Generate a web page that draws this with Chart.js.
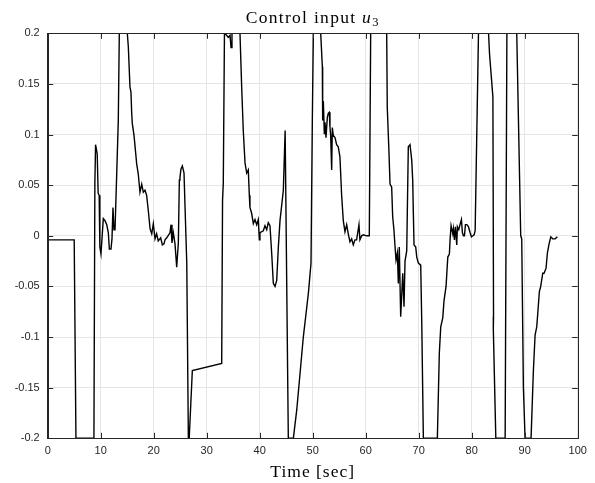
<!DOCTYPE html>
<html lang="en">
<head>
  <meta charset="UTF-8">
  <title>Control input u3</title>
  <script src="https://cdn.jsdelivr.net/npm/chart.js"></script>
  <style>
    html, body { margin: 0; padding: 0; background: #fff; }
    canvas { display: block; }
  </style>
</head>
<body>
  <canvas id="u3Chart" width="595" height="483"></canvas>

  <script>
    // data (time in seconds, control input value)
    const timeSec = [
      0, 5.0, 5.33, 8.72, 8.9, 9.03, 9.34, 9.52, 9.71, 9.84,
      10.05, 10.49, 10.81, 11.14, 11.44, 11.63, 11.94, 12.13, 12.32, 12.5,
      12.7, 12.89, 13.32, 13.51, 15.02, 15.21, 15.52, 15.71, 15.85, 15.96,
      16.29, 16.79, 17.09, 17.41, 17.74, 18.04, 18.36, 18.67, 18.98, 19.31,
      19.63, 19.93, 20.25, 20.55, 20.86, 21.32, 21.63, 21.94, 22.13, 22.46,
      23.07, 23.27, 23.45, 23.7, 24.02, 24.34, 24.65, 24.84, 24.96, 25.15,
      25.41, 25.72, 25.91, 26.24, 26.54, 26.7, 27.29, 32.83, 32.99, 33.13,
      33.35, 33.76, 34.07, 34.4, 34.59, 34.77, 36.28, 36.6, 36.9, 37.23,
      37.55, 37.85, 38.04, 38.16, 38.49, 38.8, 39.11, 39.43, 39.73, 39.93,
      40.05, 40.68, 41.0, 41.32, 41.62, 41.94, 42.27, 42.57, 42.89, 43.21,
      43.52, 43.83, 44.46, 44.8, 45.4, 46.35, 46.99, 48.23, 49.18, 49.68,
      49.93, 50.12, 51.51, 51.82, 51.88, 52.01, 52.19, 52.32, 52.51, 52.76,
      52.94, 53.13, 53.26, 53.39, 53.58, 53.7, 53.89, 54.2, 54.52, 54.82,
      55.14, 55.46, 55.77, 56.09, 56.41, 56.71, 57.03, 57.35, 57.66, 57.98,
      58.29, 58.73, 58.91, 59.24, 59.54, 60.19, 60.68, 60.94, 63.96, 64.07,
      64.4, 64.59, 64.9, 65.09, 65.34, 65.54, 65.72, 65.97, 66.16, 66.34,
      66.6, 66.99, 67.23, 67.42, 67.74, 68.04, 68.36, 68.68, 68.87, 68.99,
      69.12, 69.44, 69.63, 69.94, 70.38, 70.57, 70.88, 73.52, 73.89, 74.16,
      74.54, 74.78, 75.16, 75.49, 75.79, 75.92, 76.11, 76.43, 76.55, 76.74,
      76.92, 77.18, 77.3, 77.56, 77.8, 78.06, 78.25, 78.44, 78.63, 78.82,
      79.08, 79.38, 79.71, 79.95, 80.22, 80.46, 80.65, 81.28, 83.18, 83.36,
      84.0, 84.12, 84.08, 84.55, 86.31, 86.64, 88.5, 89.25, 89.44, 89.75,
      90.07, 91.2, 91.64, 91.96, 92.27, 92.46, 92.77, 93.02, 93.41, 93.65,
      94.03, 94.28, 94.6, 94.92, 95.29, 95.74, 96.16
    ];
    const u3 = [
      -0.004, -0.004, -0.2, -0.2, 0.052, 0.09, 0.081, 0.042, 0.040, -0.011,
      -0.018, 0.017, 0.015, 0.011, 0.003, -0.013, -0.013, -0.003, 0.028, 0.006,
      0.006, 0.038, 0.114, 0.2, 0.2, 0.187, 0.147, 0.142, 0.121, 0.111,
      0.099, 0.071, 0.061, 0.043, 0.051, 0.043, 0.045, 0.040, 0.025, 0.007,
      0.002, 0.012, -0.003, 0.002, -0.005, -0.002, -0.009, -0.008, -0.004, -0.002,
      0.003, 0.011, -0.007, 0.003, -0.008, -0.031, -0.007, 0.055, 0.058, 0.066,
      0.069, 0.062, 0.029, -0.027, -0.2, -0.2, -0.133, -0.126, 0.035, 0.052,
      0.2, 0.198, 0.196, 0.198, 0.186, 0.2, 0.2, 0.147, 0.104, 0.072,
      0.062, 0.065, 0.040, 0.028, 0.022, 0.012, 0.016, 0.011, 0.016, -0.004,
      0.003, 0.005, 0.010, 0.006, 0.013, 0.010, -0.018, -0.047, -0.05, -0.044,
      -0.011, 0.015, 0.045, 0.104, -0.2, -0.2, -0.172, -0.1, -0.057, -0.027,
      0.114, 0.2, 0.2, 0.167, 0.114, 0.133, 0.101, 0.112, 0.097, 0.117,
      0.121, 0.122, 0.107, 0.099, 0.065, 0.107, 0.099, 0.097, 0.09, 0.088,
      0.078, 0.040, 0.015, 0.004, 0.011, 0.002, -0.006, -0.003, -0.009, -0.004,
      -0.004, 0.011, -0.004, 0.0, 0.001, 0.0, 0.0, 0.2, 0.2, 0.127,
      0.081, 0.051, 0.048, 0.019, 0.005, -0.011, -0.024, -0.017, -0.047, -0.011,
      -0.08, -0.037, -0.07, -0.025, -0.015, 0.088, 0.09, 0.075, 0.055, 0.022,
      -0.009, -0.011, -0.021, -0.027, -0.029, -0.083, -0.2, -0.2, -0.116, -0.09,
      -0.081, -0.064, -0.05, -0.021, -0.018, -0.004, 0.010, 0.002, 0.007, -0.004,
      0.009, -0.009, 0.009, 0.006, 0.011, 0.016, 0.003, 0.0, 0.0, 0.011,
      0.011, 0.009, 0.003, -0.001, 0.0, 0.001, 0.005, 0.2, 0.2, 0.18,
      0.137, -0.08, -0.092, -0.2, -0.2, 0.2, 0.2, 0.0, -0.003, -0.149,
      -0.2, -0.2, -0.133, -0.098, -0.09, -0.077, -0.055, -0.05, -0.037, -0.037,
      -0.032, -0.017, -0.008, -0.001, -0.003, -0.003, -0.001
    ];

    const xTicks = [0, 10, 20, 30, 40, 50, 60, 70, 80, 90, 100];
    const yTicks = [-0.2, -0.15, -0.1, -0.05, 0, 0.05, 0.1, 0.15, 0.2];
    const yTickLabels = ['-0.2', '-0.15', '-0.1', '-0.05', '0', '0.05', '0.1', '0.15', '0.2'];

    const axisColor = '#262626';
    const gridColor = '#e5e5e5';
    const serif = '"Liberation Serif", "Times New Roman", serif';
    const tickFont = { family: '"Liberation Sans", Arial, sans-serif', size: 11 };

    // box around the plot plus short inward ticks, like matlab
    const boxPlugin = {
      id: 'boxTicks',
      afterDraw(chart) {
        const { ctx, chartArea: a, scales } = chart;
        const len = 5.5;
        ctx.save();
        ctx.strokeStyle = axisColor;
        ctx.lineWidth = 1;
        ctx.beginPath();
        xTicks.forEach(function(t) {
          const px = Math.round(scales.x.getPixelForValue(t)) + 0.5;
          ctx.moveTo(px, a.bottom); ctx.lineTo(px, a.bottom - len);
          ctx.moveTo(px, a.top); ctx.lineTo(px, a.top + len);
        });
        yTicks.forEach(function(v) {
          const py = Math.round(scales.y.getPixelForValue(v)) + 0.5;
          ctx.moveTo(a.left, py); ctx.lineTo(a.left + len, py);
          ctx.moveTo(a.right, py); ctx.lineTo(a.right - len, py);
        });
        ctx.stroke();
        ctx.strokeRect(Math.round(a.left) + 0.5, Math.round(a.top) + 0.5,
          Math.round(a.right - a.left), Math.round(a.bottom - a.top));
        ctx.restore();
      }
    };

    // latex-ish titles: italic u with subscript 3, and the x label
    const titlePlugin = {
      id: 'latexTitles',
      afterDraw(chart) {
        const { ctx, chartArea: a } = chart;
        const cx = (a.left + a.right) / 2;
        ctx.save();
        ctx.fillStyle = '#000';
        ctx.textBaseline = 'alphabetic';
        ctx.letterSpacing = '1.3px';

        const main = 'Control input ';
        ctx.font = '17.5px ' + serif;
        const w1 = ctx.measureText(main).width;
        ctx.font = 'italic 17.5px ' + serif;
        const w2 = ctx.measureText('u').width;
        ctx.font = '12.5px ' + serif;
        const w3 = ctx.measureText('3').width;
        let x = cx - (w1 + w2 + w3) / 2;
        const y = 23;
        ctx.font = '17.5px ' + serif;
        ctx.fillText(main, x, y);
        x += w1;
        ctx.font = 'italic 17.5px ' + serif;
        ctx.fillText('u', x, y);
        x += w2;
        ctx.font = '12.5px ' + serif;
        ctx.fillText('3', x, y + 3);

        ctx.font = '17.5px ' + serif;
        ctx.letterSpacing = '1px';
        const xt = 'Time [sec]';
        const wt = ctx.measureText(xt).width;
        ctx.fillText(xt, cx - wt / 2, 477);
        ctx.restore();
      }
    };

    new Chart(document.getElementById('u3Chart'), {
      type: 'line',
      data: {
        datasets: [{
          label: 'u3',
          data: timeSec.map(function(t, i) { return { x: t, y: u3[i] }; }),
          borderColor: '#000',
          borderWidth: 1.4,
          pointRadius: 0,
          tension: 0,
          fill: false
        }]
      },
      options: {
        responsive: false,
        animation: false,
        layout: { padding: { top: 33.3, right: 17.3, bottom: 0, left: 0 } },
        plugins: {
          legend: { display: false },
          tooltip: { enabled: false }
        },
        scales: {
          x: {
            type: 'linear',
            min: 0,
            max: 100,
            afterFit: function(scale) { scale.height = 44.7; },
            afterBuildTicks: function(scale) {
              scale.ticks = xTicks.map(function(v) { return { value: v }; });
            },
            ticks: {
              color: axisColor,
              font: tickFont,
              padding: 6,
              maxRotation: 0,
              callback: function(v) { return String(v); }
            },
            grid: { color: gridColor, drawTicks: false },
            border: { color: axisColor }
          },
          y: {
            min: -0.2,
            max: 0.2,
            afterFit: function(scale) { scale.width = 47.7; },
            afterBuildTicks: function(scale) {
              scale.ticks = yTicks.map(function(v) { return { value: v }; });
            },
            ticks: {
              color: axisColor,
              font: tickFont,
              padding: 8,
              callback: function(v, i) { return yTickLabels[i]; }
            },
            grid: { color: gridColor, drawTicks: false },
            border: { color: axisColor }
          }
        }
      },
      plugins: [boxPlugin, titlePlugin]
    });
  </script>
</body>
</html>
